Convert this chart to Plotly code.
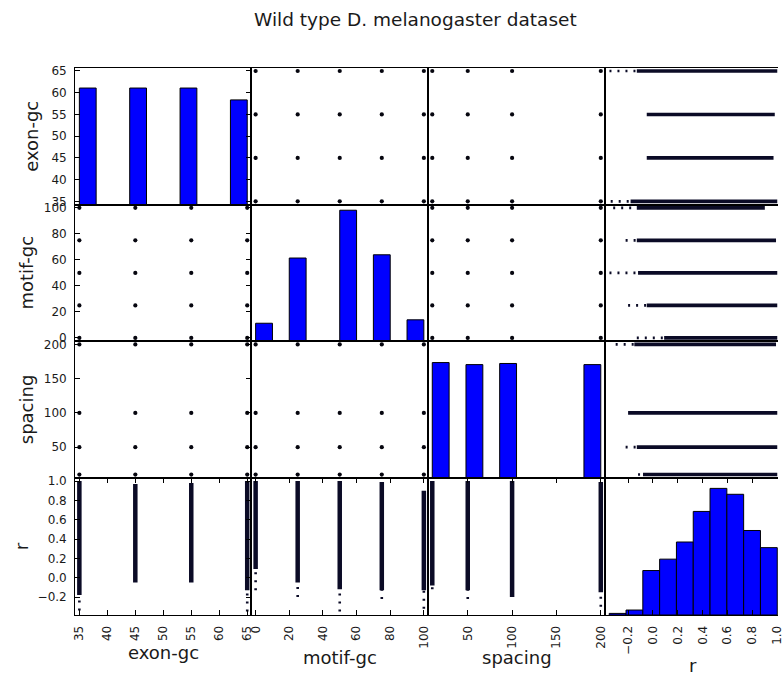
import numpy as np
import plotly.graph_objects as go
from itertools import product

W, H = 784, 676

# ---------------- data ----------------
names = ["exon-gc", "motif-gc", "spacing", "r"]
exon_values = [35, 45, 55, 65]
motif_values = [0, 25, 50, 75, 100]
spacing_values = [10, 50, 100, 200]
r_min, r_max = -0.352, 1.0

# histogram counts, 10 bins each
exon_hist = [5110, 0, 0, 5110, 0, 0, 5110, 0, 0, 4590]
motif_hist = [1050, 0, 4870, 0, 0, 7670, 0, 5060, 0, 1250]
spacing_hist = [5060, 0, 4970, 0, 5020, 0, 0, 0, 0, 4970]
r_hist = [46, 144, 1296, 1628, 2128, 3020, 3692, 3520, 2464, 1964]
hist_ymax = [6000, 8000, 6000, 4000]

# spread of r for each discrete value: lowest point, start of dense part, highest point
exon_r_low = [-0.34, -0.05, -0.05, -0.35]
exon_r_dense = [-0.18, -0.05, -0.05, -0.13]
exon_r_high = [1.0, 0.97, 0.98, 1.0]
motif_r_low = [-0.13, -0.20, -0.35, -0.22, -0.32]
motif_r_dense = [0.09, -0.05, -0.12, -0.13, -0.13]
motif_r_high = [1.0, 1.0, 1.0, 0.99, 0.90]
spacing_r_low = [-0.12, -0.22, -0.20, -0.30]
spacing_r_dense = [-0.08, -0.13, -0.20, -0.15]
spacing_r_high = [1.0, 1.0, 1.0, 0.99]

# tick labels
exon_ticks = [35, 40, 45, 50, 55, 60, 65]
exon_ticktext = ["35", "40", "45", "50", "55", "60", "65"]
motif_ticks = [0, 20, 40, 60, 80, 100]
motif_ticktext = ["0", "20", "40", "60", "80", "100"]
spacing_ticks = [50, 100, 150, 200]
spacing_ticktext = ["50", "100", "150", "200"]
r_ticks = [-0.2, 0.0, 0.2, 0.4, 0.6, 0.8, 1.0]
r_ticktext = ["\u22120.2", "0.0", "0.2", "0.4", "0.6", "0.8", "1.0"]

title_text = "Wild type D. melanogaster dataset"

# ---------------- derived ----------------
discrete = [exon_values, motif_values, spacing_values]
stripes = [
    (exon_r_low, exon_r_dense, exon_r_high),
    (motif_r_low, motif_r_dense, motif_r_high),
    (spacing_r_low, spacing_r_dense, spacing_r_high),
]
hists = [exon_hist, motif_hist, spacing_hist, r_hist]
lo = [min(exon_values), min(motif_values), min(spacing_values), r_min]
hi = [max(exon_values), max(motif_values), max(spacing_values), r_max]
bounds = [(a - 0.025 * (b - a), b + 0.025 * (b - a)) for a, b in zip(lo, hi)]
ticks = [(exon_ticks, exon_ticktext), (motif_ticks, motif_ticktext),
         (spacing_ticks, spacing_ticktext), (r_ticks, r_ticktext)]

# layout geometry in pixels
col_px = [73, 251.3, 430, 609, 787.5]
row_px = [64.5, 203, 341.2, 479.5, 618.3]

FONT = "DejaVu Sans"
TXT = "#1a1a1a"
DOT = "#06060f"
STRIPE = "#0b0b26"

fig = go.Figure()
layout = {}


def ax_name(prefix, k):
    return prefix if k == 1 else f"{prefix}{k}"


for i in range(4):
    for j in range(4):
        k = 4 * i + j + 1
        xa, ya = ax_name("x", k), ax_name("y", k)
        if i == j:
            edges = np.linspace(lo[i], hi[i], 11)
            fig.add_trace(go.Bar(
                x=(edges[:-1] + edges[1:]) / 2, y=hists[i], width=np.diff(edges),
                marker=dict(color="#0000ff", line=dict(color="black", width=1)),
                xaxis=xa, yaxis=ya))
        elif i < 3 and j < 3:
            pts = list(product(discrete[j], discrete[i]))
            fig.add_trace(go.Scatter(
                x=[p[0] for p in pts], y=[p[1] for p in pts], mode="markers",
                marker=dict(size=4.2, color=DOT), xaxis=xa, yaxis=ya))
        else:
            if i == 3:
                vals = discrete[j]
                low, dense, high = stripes[j]
                vertical = True
            else:
                vals = discrete[i]
                low, dense, high = stripes[i]
                vertical = False
            d_a, d_b, s_a, s_b = [], [], [], []
            for v, l, d, h in zip(vals, low, dense, high):
                d_a += [v, v, None]
                d_b += [d, h, None]
                if l < d:
                    s_a += [v, v, None]
                    s_b += [l, d, None]
            w = 4.5 if vertical else 3.6
            for A, B, dash, lw in ((d_a, d_b, "solid", w), (s_a, s_b, "2px,6px", 2.6)):
                if not A:
                    continue
                xs, ys = (A, B) if vertical else (B, A)
                fig.add_trace(go.Scatter(
                    x=xs, y=ys, mode="lines",
                    line=dict(color=STRIPE, width=lw, dash=dash),
                    xaxis=xa, yaxis=ya))

        # ---------- axes ----------
        x0 = col_px[j] / W
        x1 = min(col_px[j + 1], W) / W
        xr = list(bounds[j])
        if col_px[j + 1] > W:
            xr[1] = xr[0] + (W - col_px[j]) / (col_px[j + 1] - col_px[j]) * (xr[1] - xr[0])
        xaxis = dict(domain=[x0, x1], range=xr, anchor=ya,
                     showline=True, linecolor="black", linewidth=1,
                     showgrid=False, zeroline=False, fixedrange=True,
                     ticks="", showticklabels=False, mirror=True)
        if i == 3:
            tv, tt = ticks[j]
            xaxis.update(ticks="inside", ticklen=5, tickwidth=1, tickcolor="black",
                         mirror="ticks", showticklabels=True, tickmode="array",
                         tickvals=tv, ticktext=tt, tickangle=-90,
                         tickfont=dict(family=FONT, size=12, color=TXT),
                         ticklabeloverflow="allow", ticklabelstandoff=5)
        yaxis = dict(domain=[1 - row_px[i + 1] / H, 1 - row_px[i] / H], anchor=xa,
                     showline=True, linecolor="black", linewidth=1,
                     showgrid=False, zeroline=False, fixedrange=True,
                     ticks="", showticklabels=False, mirror=(j != 3))
        if i == j:
            yaxis["range"] = [0, hist_ymax[i]]
        else:
            yaxis["range"] = list(bounds[i])
        if j == 0:
            tv, tt = ticks[i]
            if i == 0:
                # map the variable's ticks onto the histogram's count axis
                b0, b1 = bounds[0]
                tv = [(t - b0) / (b1 - b0) * hist_ymax[0] for t in tv]
            yaxis.update(ticks="inside", ticklen=5, tickwidth=1, tickcolor="black",
                         mirror="ticks", showticklabels=True, tickmode="array",
                         tickvals=tv, ticktext=tt,
                         tickfont=dict(family=FONT, size=12, color=TXT),
                         ticklabeloverflow="allow", ticklabelstandoff=5)
        layout[ax_name("xaxis", k)] = xaxis
        layout[ax_name("yaxis", k)] = yaxis

annotations = []
# bottom axis labels
xlab_y = [656, 661, 661, 669]
for j in range(4):
    cx = (col_px[j] + min(col_px[j + 1], 787.5)) / 2
    annotations.append(dict(text=names[j], x=cx / W, y=1 - xlab_y[j] / H,
                            xref="paper", yref="paper", showarrow=False,
                            xanchor="center", yanchor="middle",
                            font=dict(family=FONT, size=18, color=TXT)))
# left axis labels
ylab_x = [29, 24, 24, 19]
for i in range(4):
    cy = (row_px[i] + row_px[i + 1]) / 2
    annotations.append(dict(text=names[i], x=ylab_x[i] / W, y=1 - cy / H,
                            xref="paper", yref="paper", showarrow=False,
                            xanchor="center", yanchor="middle", textangle=-90,
                            font=dict(family=FONT, size=18, color=TXT)))
# title
annotations.append(dict(text=title_text, x=417.5 / W, y=1 - 16 / H,
                        xref="paper", yref="paper", showarrow=False,
                        xanchor="center", yanchor="middle",
                        font=dict(family=FONT, size=18.5, color=TXT)))

fig.update_layout(
    width=W, height=H, margin=dict(l=0, r=0, t=0, b=0),
    paper_bgcolor="white", plot_bgcolor="white",
    showlegend=False, hovermode=False, bargap=0,
    annotations=annotations, **layout)

fig.write_html("out.html", config={"displayModeBar": False, "staticPlot": True},
               post_script="document.body.style.margin='0';document.body.style.overflow='hidden';")
